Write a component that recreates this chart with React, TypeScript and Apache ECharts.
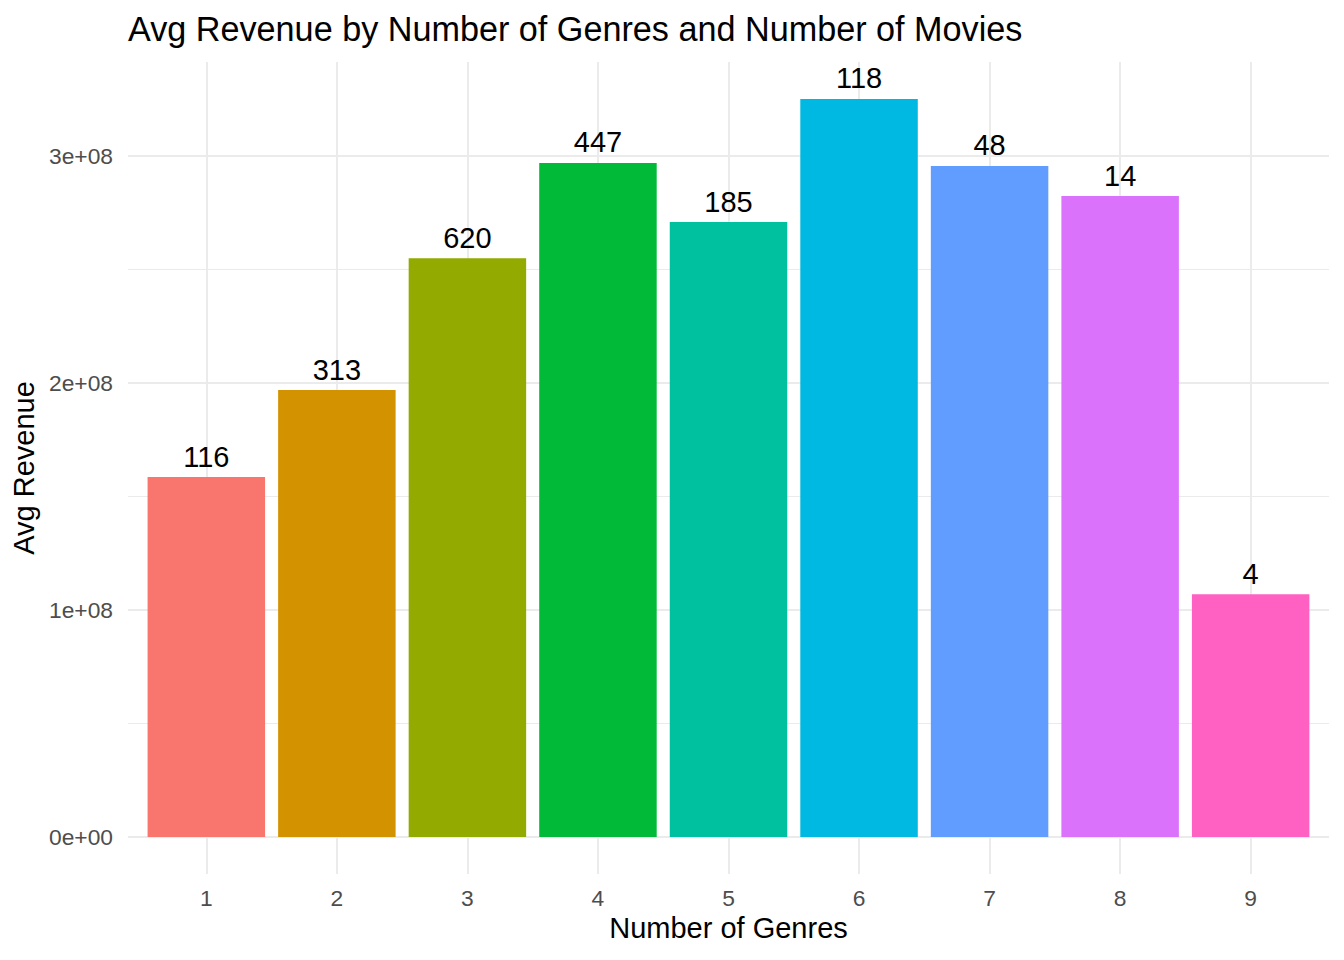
import React, { useEffect, useRef } from "react";
import * as echarts from "echarts";

const genres = [1, 2, 3, 4, 5, 6, 7, 8, 9];
const avgRevenue = [158500000, 196800000, 254900000, 296800000, 270800000, 325000000, 295500000, 282200000, 106900000];
const movieCounts = [116, 313, 620, 447, 185, 118, 48, 14, 4];
const barColors = ["#F8766D", "#D39200", "#93AA00", "#00BA38", "#00C19F", "#00B9E3", "#619CFF", "#DB72FB", "#FF61C3"];
const yMajorTicks = [0, 100000000, 200000000, 300000000];
const yMinorTicks = [50000000, 150000000, 250000000];

const FONT = "'Liberation Sans', Arial, sans-serif";

function sci(v: number): string {
  if (v === 0) return "0e+00";
  const [m, e] = v.toExponential(0).split("e");
  const sign = e[0];
  const digits = e.slice(1).padStart(2, "0");
  return `${m}e${sign}${digits}`;
}

export default function App() {
  const ref = useRef<HTMLDivElement>(null);
  useEffect(() => {
    if (!ref.current) return;
    const chart = echarts.init(ref.current, undefined, { renderer: "svg" });
    const maxV = Math.max(...avgRevenue);
    const yMin = -0.05 * maxV;
    const yMax = 1.05 * maxV;
    chart.setOption({
      animation: false,
      backgroundColor: "#ffffff",
      title: {
        text: "Avg Revenue by Number of Genres and Number of Movies",
        left: 123,
        top: 7,
        textStyle: { fontFamily: FONT, fontSize: 34.2, fontWeight: "normal", color: "#000000" },
      },
      grid: { left: 128, right: 15, top: 62, bottom: 86, containLabel: false },
      xAxis: {
        type: "value",
        min: 0.4,
        max: 9.6,
        name: "Number of Genres",
        nameLocation: "middle",
        nameGap: 38,
        nameTextStyle: { fontFamily: FONT, fontSize: 29, color: "#000000" },
        axisLine: { show: false },
        axisTick: { show: false, customValues: genres },
        axisLabel: {
          customValues: genres,
          margin: 12,
          fontFamily: FONT,
          fontSize: 22.8,
          color: "#4D4D4D",
          formatter: (v: number) => String(v),
        },
        splitLine: { show: true, lineStyle: { color: "#EBEBEB", width: 2 } },
      },
      yAxis: [
        {
          type: "value",
          min: yMin,
          max: yMax,
          name: "Avg Revenue",
          nameLocation: "middle",
          nameGap: 86,
          nameTextStyle: { fontFamily: FONT, fontSize: 29, color: "#000000" },
          axisLine: { show: false },
          axisTick: { show: false, customValues: yMajorTicks },
          axisLabel: {
            customValues: yMajorTicks,
            margin: 15,
            fontFamily: FONT,
            fontSize: 22.8,
            color: "#4D4D4D",
            formatter: (v: number) => sci(v),
          },
          splitLine: { show: true, lineStyle: { color: "#EBEBEB", width: 2 } },
        },
        {
          type: "value",
          position: "left",
          min: yMin,
          max: yMax,
          axisLine: { show: false },
          axisTick: { show: false, customValues: yMinorTicks },
          axisLabel: { show: false, customValues: yMinorTicks },
          splitLine: { show: true, lineStyle: { color: "#EBEBEB", width: 1 } },
        },
      ],
      series: [
        {
          type: "bar",
          yAxisIndex: 0,
          barWidth: "90%",
          data: genres.map((g, i) => ({
            value: [g, avgRevenue[i]],
            itemStyle: { color: barColors[i] },
          })),
          label: {
            show: true,
            position: "top",
            distance: 6,
            fontFamily: FONT,
            fontSize: 29,
            color: "#000000",
            formatter: (p: any) => String(movieCounts[p.dataIndex]),
          },
        },
      ],
    });
    return () => chart.dispose();
  }, []);
  return (
    <div
      ref={ref}
      style={{ position: "fixed", left: 0, top: 0, width: 1344, height: 960 }}
    />
  );
}
